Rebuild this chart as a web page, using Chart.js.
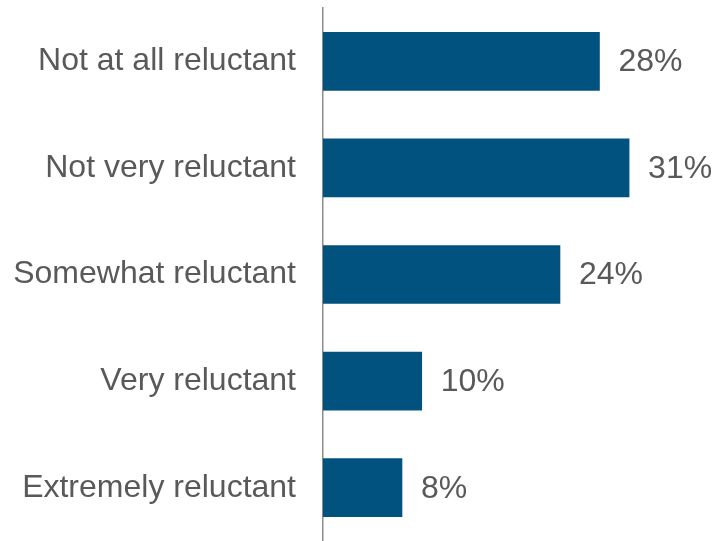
<!DOCTYPE html>
<html>
<head>
<meta charset="utf-8">
<script src="https://cdn.jsdelivr.net/npm/chart.js@4/dist/chart.umd.min.js"></script>
<style>
  html, body { margin: 0; padding: 0; background: #ffffff; }
  #wrap { width: 715px; height: 541px; position: relative; }
</style>
</head>
<body>
<div id="wrap"><canvas id="c"></canvas></div>
<script>
// Reluctance levels and share of respondents (%)
const categories = [
  'Not at all reluctant',
  'Not very reluctant',
  'Somewhat reluctant',
  'Very reluctant',
  'Extremely reluctant'
];
const shares = [28, 31, 24, 10, 8];
const valueLabels = ['28%', '31%', '24%', '10%', '8%'];

const FONT = '"Liberation Sans", Arial, sans-serif';
const TEXT_COLOR = '#595959';

// Writes the percentage just past the end of each bar
const barValueLabels = {
  id: 'barValueLabels',
  afterDatasetsDraw(chart) {
    const ctx = chart.ctx;
    const meta = chart.getDatasetMeta(0);
    ctx.save();
    ctx.font = '32px ' + FONT;
    ctx.fillStyle = TEXT_COLOR;
    ctx.textAlign = 'left';
    ctx.textBaseline = 'middle';
    meta.data.forEach((bar, i) => {
      ctx.fillText(valueLabels[i], bar.x + 19, bar.y + 1);
    });
    ctx.restore();
  }
};

new Chart(document.getElementById('c'), {
  type: 'bar',
  data: {
    labels: categories,
    datasets: [{
      data: shares,
      backgroundColor: '#02527F',
      borderWidth: 0,
      barThickness: 58
    }]
  },
  options: {
    indexAxis: 'y',
    responsive: true,
    maintainAspectRatio: false,
    animation: false,
    layout: { padding: { top: 8, right: 0, bottom: 0, left: 0 }, autoPadding: false },
    plugins: {
      legend: { display: false },
      tooltip: { enabled: false }
    },
    scales: {
      x: {
        display: false,
        min: 0,
        max: 39.7
      },
      y: {
        afterFit(scale) {
          scale.width = 323;
          scale.paddingTop = 0;
          scale.paddingBottom = 0;
        },
        grid: { display: false, drawTicks: false },
        border: { display: true, color: '#8c8c8c', width: 1.5 },
        ticks: {
          padding: 27,
          color: TEXT_COLOR,
          font: { family: FONT, size: 32 }
        }
      }
    }
  },
  plugins: [barValueLabels]
});
</script>
</body>
</html>
